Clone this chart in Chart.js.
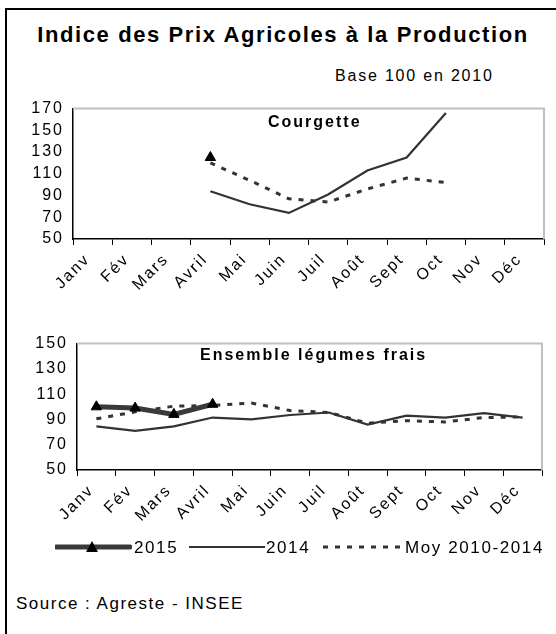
<!DOCTYPE html>
<html>
<head>
<meta charset="utf-8">
<script src="https://cdn.jsdelivr.net/npm/chart.js@4"></script>
<style>
  body { margin: 0; width: 556px; height: 634px; overflow: hidden; background: #fff; position: relative;
         font-family: 'Liberation Sans', Arial, sans-serif; color: #000; }
  .frame { position: absolute; left: 5px; top: 8px; width: 600px; height: 700px;
           border-left: 2px solid #000; border-top: 2px solid #000; }
  .txt { position: absolute; white-space: nowrap; line-height: 1; }
  canvas { position: absolute; left: 0; }
</style>
</head>
<body>
<div class="frame"></div>
<div class="txt" style="left:0;width:566px;text-align:center;top:24px;font-size:22px;font-weight:bold;letter-spacing:1.6px">Indice des Prix Agricoles à la Production</div>
<div class="txt" style="left:335px;top:68px;font-size:16px;letter-spacing:1.8px">Base 100 en 2010</div>

<canvas id="top" width="556" height="230" style="top:90px"></canvas>
<div class="txt" style="left:268px;top:114px;font-size:16px;font-weight:bold;letter-spacing:2px">Courgette</div>

<canvas id="bottom" width="556" height="215" style="top:325px"></canvas>
<div class="txt" style="left:200px;top:347px;font-size:16px;font-weight:bold;letter-spacing:2px">Ensemble légumes frais</div>

<svg class="txt" style="left:55px;top:539px" width="77" height="16">
  <line x1="1" y1="8" x2="75" y2="8" stroke="#3a3a3a" stroke-width="5" stroke-linecap="round"/>
  <polygon points="37,2 43,13 31,13" fill="#000"/>
</svg>
<div class="txt" style="left:134px;top:539px;font-size:17px;letter-spacing:1.6px">2015</div>
<svg class="txt" style="left:189px;top:539px" width="76" height="16">
  <line x1="0" y1="8" x2="76" y2="8" stroke="#333" stroke-width="2"/>
</svg>
<div class="txt" style="left:266px;top:539px;font-size:17px;letter-spacing:1.6px">2014</div>
<svg class="txt" style="left:323px;top:539px" width="80" height="16">
  <line x1="0" y1="8" x2="80" y2="8" stroke="#333" stroke-width="3" stroke-dasharray="5 7"/>
</svg>
<div class="txt" style="left:405px;top:539px;font-size:17px;letter-spacing:1.6px">Moy 2010-2014</div>

<div class="txt" style="left:16px;top:595px;font-size:17px;letter-spacing:1.5px">Source : Agreste - INSEE</div>

<script>
// months on the x axis
const months = ['Janv', 'Fév', 'Mars', 'Avril', 'Mai', 'Juin', 'Juil', 'Août', 'Sept', 'Oct', 'Nov', 'Déc'];

// Courgette
const courgette2015 = [null, null, null, 125, null, null, null, null, null, null, null, null];
const courgette2014 = [null, null, null, 94, 82, 74, 91, 113, 125, 166, null, null];
const courgetteMoy  = [null, null, null, 120, 104, 87, 84, 96, 106, 102, null, null];
const courgetteTicks = [50, 170, 20]; // min, max, step

// Ensemble légumes frais
const legumes2015 = [100, 99, 94, 102, null, null, null, null, null, null, null, null];
const legumes2014 = [84.5, 81, 84.5, 91.5, 90, 93.5, 95.5, 86, 93, 91.5, 95, 91.5];
const legumesMoy  = [90.5, 96, 100.5, 101, 103, 97, 95.5, 87, 89, 88, 91.5, 92];
const legumesTicks = [50, 150, 20];

const FONT = "'Liberation Sans', Arial, sans-serif";

// wider letters like the original export
const spacing = {
    id: 'spacing',
    beforeDraw(chart) { chart.ctx.letterSpacing = '2px'; }
};

// light grey top and right edges of the plot area
const plotFrame = {
    id: 'plotFrame',
    beforeDatasetsDraw(chart) {
        const {ctx, chartArea: a} = chart;
        ctx.save();
        ctx.strokeStyle = '#c0c0c0';
        ctx.lineWidth = 2;
        ctx.beginPath();
        ctx.moveTo(a.left, a.top);
        ctx.lineTo(a.right, a.top);
        ctx.lineTo(a.right, a.bottom);
        ctx.stroke();
        ctx.restore();
    }
};

function makeChart(id, d2015, d2014, dMoy, ticks, box) {
    return new Chart(document.getElementById(id), {
        type: 'line',
        data: {
            labels: months,
            datasets: [{
                label: '2015',
                data: d2015,
                borderColor: '#3a3a3a',
                borderWidth: 5,
                pointStyle: 'triangle',
                pointRadius: 6,
                pointBackgroundColor: '#000',
                pointBorderColor: '#000',
                pointBorderWidth: 1
            }, {
                label: '2014',
                data: d2014,
                borderColor: '#333',
                borderWidth: 2.2,
                pointRadius: 0
            }, {
                label: 'Moy 2010-2014',
                data: dMoy,
                borderColor: '#333',
                borderWidth: 3,
                borderDash: [5, 7],
                pointRadius: 0
            }]
        },
        options: {
            responsive: false,
            animation: false,
            devicePixelRatio: 1,
            layout: { autoPadding: false, padding: { top: box.top, right: box.right, left: 0, bottom: 0 } },
            plugins: { legend: { display: false }, tooltip: { enabled: false } },
            scales: {
                x: {
                    offset: true,
                    grid: { display: true, drawOnChartArea: false, offset: true, color: '#000', tickLength: 6 },
                    border: { color: '#000', width: 1.5 },
                    ticks: {
                        autoSkip: false, maxRotation: 45, minRotation: 45,
                        color: '#000', font: { family: FONT, size: 16 },
                        padding: 5, labelOffset: -5
                    },
                    afterFit: s => { s.height = box.xh; }
                },
                y: {
                    min: ticks[0], max: ticks[1],
                    grid: { display: false, drawTicks: false },
                    border: { color: '#000', width: 1.5 },
                    ticks: {
                        autoSkip: false, stepSize: ticks[2], color: '#000',
                        font: { family: FONT, size: 16 }, padding: 9
                    },
                    afterFit: s => { s.width = box.left; }
                }
            }
        },
        plugins: [spacing, plotFrame]
    });
}

makeChart('top', courgette2015, courgette2014, courgetteMoy, courgetteTicks,
    { top: 12, right: 12, left: 73, xh: 81 });
makeChart('bottom', legumes2015, legumes2014, legumesMoy, legumesTicks,
    { top: 12, right: 14, left: 77, xh: 70 });
</script>
</body>
</html>
